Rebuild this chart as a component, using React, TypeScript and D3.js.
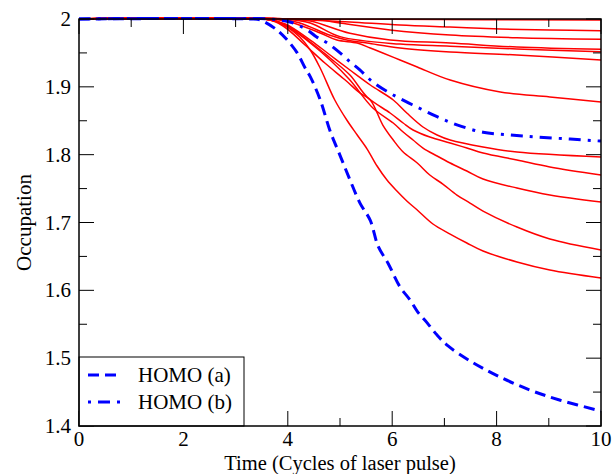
import React from "react";
import * as d3 from "d3";

type P = [number, number];

const xTicks = [0, 2, 4, 6, 8, 10];
const yTicks = [1.4, 1.5, 1.6, 1.7, 1.8, 1.9, 2];
const xMinor = [1, 3, 5, 7, 9];
const yMinor = [1.45, 1.55, 1.65, 1.75, 1.85, 1.95];

const homoA: P[] = [[0,2],[3.28,2],[3.47,1.9985],[3.79,1.984],[3.99,1.969],[4.18,1.95],[4.33,1.928],[4.43,1.915],[4.62,1.881],[4.81,1.835],[5.0,1.799],[5.19,1.763],[5.38,1.729],[5.58,1.703],[5.73,1.665],[5.92,1.64],[6.15,1.605],[6.34,1.586],[6.49,1.568],[6.67,1.552],[6.86,1.534],[7.07,1.518],[7.49,1.496],[7.99,1.475],[8.64,1.453],[9.22,1.438],[10,1.422]];
const homoB: P[] = [[0,2],[3.66,2],[4.04,1.9956],[4.37,1.984],[4.56,1.973],[4.75,1.965],[5.0,1.95],[5.19,1.937],[5.38,1.925],[5.63,1.907],[6.02,1.888],[6.48,1.87],[6.86,1.856],[7.24,1.844],[7.74,1.833],[8.26,1.829],[8.77,1.826],[9.41,1.823],[10,1.82]];

const r1: P[] = [[0,2],[4,2],[6,1.9995],[10,1.9985]];
const r2: P[] = [[0,2],[3.85,2],[4.43,1.9985],[5.19,1.9956],[6.15,1.9912],[7.11,1.9882],[8.07,1.9853],[9.02,1.9838],[10,1.9828]];
const r3: P[] = [[0,2],[4.04,2],[4.62,1.9985],[5.0,1.9941],[5.96,1.9838],[7.11,1.9764],[8.39,1.9724],[10,1.9701]];
const r4: P[] = [[0,2],[3.95,2],[4.43,1.997],[5.19,1.979],[5.96,1.969],[7.11,1.9646],[8.39,1.9587],[10,1.9553]];
const r5: P[] = [[0,2],[3.95,2],[4.43,1.9941],[5.0,1.974],[6.15,1.963],[7.11,1.96],[8.39,1.9558],[10,1.9518]];
const r6: P[] = [[0,2],[3.85,2],[4.23,1.9941],[4.81,1.976],[5.13,1.969],[5.52,1.9646],[6.15,1.9572],[7.11,1.9513],[8.39,1.9469],[10,1.9396]];
const r7: P[] = [[0,2],[3.66,2],[4.04,1.9956],[4.62,1.9794],[4.94,1.969],[5.33,1.9646],[5.58,1.9572],[5.82,1.9499],[6.15,1.9396],[6.48,1.9292],[7.11,1.91],[8.07,1.8924],[9.02,1.885],[10,1.8776]];
const r8: P[] = [[0,2],[3.56,2],[3.95,1.9926],[4.43,1.969],[4.81,1.9469],[5.19,1.9248],[5.58,1.9027],[6.02,1.8806],[6.28,1.8614],[6.59,1.8408],[6.86,1.829],[7.11,1.8216],[7.74,1.8113],[8.39,1.8039],[10,1.7966]];
const r9: P[] = [[0,2],[3.56,2],[3.95,1.9912],[4.43,1.9661],[4.81,1.9425],[5.19,1.9174],[5.52,1.885],[5.96,1.8614],[6.21,1.8467],[6.4,1.8364],[6.72,1.826],[7.11,1.8172],[7.43,1.8098],[7.74,1.8024],[8.39,1.7921],[9.02,1.7818],[10,1.77]];
const r10: P[] = [[0,2],[3.56,2],[3.95,1.9912],[4.43,1.9646],[4.81,1.9396],[5.19,1.9101],[5.63,1.8688],[6.02,1.8467],[6.21,1.8334],[6.4,1.8216],[6.59,1.8098],[6.86,1.798],[7.11,1.7877],[7.43,1.7759],[7.74,1.7641],[8.39,1.7508],[9.02,1.7405],[10,1.7302]];
const r11: P[] = [[0,2],[3.56,2],[3.91,1.9897],[4.33,1.9617],[4.71,1.9351],[5.1,1.91],[5.38,1.891],[5.58,1.8806],[5.82,1.8437],[6.02,1.8216],[6.21,1.8039],[6.48,1.7877],[6.72,1.77],[6.97,1.7567],[7.24,1.7405],[7.49,1.7287],[7.74,1.7169],[8.39,1.6933],[9.02,1.6757],[10,1.6595]];
const r12: P[] = [[0,2],[3.51,2],[3.76,1.997],[3.99,1.9882],[4.23,1.9735],[4.43,1.9543],[4.62,1.9278],[4.9,1.8806],[5.13,1.8511],[5.33,1.829],[5.52,1.8083],[5.71,1.7833],[5.9,1.7626],[6.09,1.7464],[6.28,1.7317],[6.48,1.7184],[6.78,1.6978],[7.11,1.683],[7.43,1.6698],[7.74,1.658],[8.39,1.6418],[9.02,1.63],[10,1.6182]];

const redSeries = [r1, r2, r3, r4, r5, r6, r7, r8, r9, r10, r11, r12];
const legendLabels = ["HOMO (a)", "HOMO (b)"];

const W = 614, H = 474;
const L = 79, R = 601, T = 19, B = 426;
const FONT = "'Liberation Serif', 'Times New Roman', serif";

export default function App() {
  const x = d3.scaleLinear().domain([0, 10]).range([L, R]);
  const y = d3.scaleLinear().domain([1.4, 2]).range([B, T]);
  const line = d3.line<P>().x(d => x(d[0])).y(d => y(d[1])).curve(d3.curveCatmullRom.alpha(0.5));
  const major = 15, minor = 8;

  return (
    <svg width={W} height={H} style={{ position: "absolute", left: 0, top: 0, background: "#fff" }} fontFamily={FONT}>
      <rect x={0} y={0} width={W} height={H} fill="#fff" />
      <defs>
        <clipPath id="plot"><rect x={L} y={T - 2} width={R - L} height={B - T + 2} /></clipPath>
      </defs>
      <g clipPath="url(#plot)">
        {redSeries.map((s, i) => (
          <path key={i} d={line(s) || ""} fill="none" stroke="#ff0000" strokeWidth={1.5} />
        ))}
        <path d={line(homoB) || ""} fill="none" stroke="#0000ff" strokeWidth={3} strokeDasharray="12,7,3,7" />
        <path d={line(homoA) || ""} fill="none" stroke="#0000ff" strokeWidth={3} strokeDasharray="11,6" />
      </g>
      <g stroke="#000" strokeWidth={1}>
        {xTicks.map(t => (
          <g key={"xt" + t}>
            <line x1={x(t)} x2={x(t)} y1={B} y2={B - major} />
            <line x1={x(t)} x2={x(t)} y1={T} y2={T + major} />
          </g>
        ))}
        {xMinor.map(t => (
          <g key={"xm" + t}>
            <line x1={x(t)} x2={x(t)} y1={B} y2={B - minor} />
            <line x1={x(t)} x2={x(t)} y1={T} y2={T + minor} />
          </g>
        ))}
        {yTicks.map(t => (
          <g key={"yt" + t}>
            <line x1={L} x2={L + major} y1={y(t)} y2={y(t)} />
            <line x1={R} x2={R - major} y1={y(t)} y2={y(t)} />
          </g>
        ))}
        {yMinor.map(t => (
          <g key={"ym" + t}>
            <line x1={L} x2={L + minor} y1={y(t)} y2={y(t)} />
            <line x1={R} x2={R - minor} y1={y(t)} y2={y(t)} />
          </g>
        ))}
      </g>
      <rect x={L} y={357} width={165} height={B - 357} fill="#fff" stroke="#000" strokeWidth={1} />
      <line x1={88} x2={120} y1={375} y2={375} stroke="#0000ff" strokeWidth={3} strokeDasharray="11,6" />
      <line x1={88} x2={120} y1={402} y2={402} stroke="#0000ff" strokeWidth={3} strokeDasharray="3,7,12,7" />
      {legendLabels.map((lab, i) => (
        <text key={lab} x={138} y={375 + i * 27} dominantBaseline="central" fontSize={21} fill="#000">{lab}</text>
      ))}
      <rect x={L} y={T} width={R - L} height={B - T} fill="none" stroke="#000" strokeWidth={1.5} />
      {xTicks.map(t => (
        <text key={"xl" + t} x={x(t)} y={446} textAnchor="middle" fontSize={21} fill="#000">{t}</text>
      ))}
      {yTicks.map(t => (
        <text key={"yl" + t} x={71} y={y(t)} textAnchor="end" dominantBaseline="central" fontSize={21} fill="#000">{d3.format("")(t)}</text>
      ))}
      <text x={(L + R) / 2} y={470} textAnchor="middle" fontSize={20.5} fill="#000">Time (Cycles of laser pulse)</text>
      <text transform={`translate(31,${(T + B) / 2}) rotate(-90)`} textAnchor="middle" fontSize={21} fill="#000">Occupation</text>
    </svg>
  );
}
